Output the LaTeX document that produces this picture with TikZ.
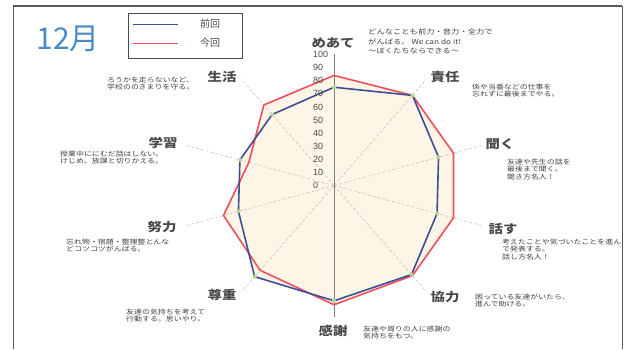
\documentclass[tikz,border=0pt]{standalone}
\usepackage{fontspec}
\setmainfont{Liberation Sans}
\newfontfamily\cjk{Noto Sans CJK JP}
\usepackage{xcolor}
\definecolor{prev-blue}{HTML}{3F4C96}
\definecolor{now-red}{HTML}{EE4F5E}
\definecolor{mark-green}{HTML}{B4D88C}
\definecolor{pale-beige}{HTML}{FDF5E6}
\definecolor{title-blue}{HTML}{4A8BC6}
\definecolor{ink-grey}{HTML}{4A4A4A}
\usepackage{tikz}
\tikzset{axislabel/.style = {font=\cjk\bfseries\fontsize{12}{12}\selectfont, text=ink-grey, inner sep=0pt, xscale=1.2, transform shape}}
\tikzset{desc/.style = {font=\cjk\fontsize{6.5}{7.2}\selectfont, text=black!75, align=left, anchor=north west, inner sep=0pt, xscale=1.22, transform shape}}
\tikzset{scalelabel/.style = {font=\fontsize{9}{9}\selectfont, text=ink-grey, anchor=west, inner sep=0pt}}
\tikzset{legendtext/.style = {font=\cjk\fontsize{10}{10}\selectfont, text=ink-grey, inner sep=0pt}}
\tikzset{spoke/.style = {gray!60, densely dashed, line width=.4pt}}
\tikzset{prev/.style = {prev-blue, line width=1.6pt, line join=round}}
\tikzset{now/.style = {now-red, line width=1.6pt, line join=round}}
\tikzset{gdot/.style = {circle, fill=mark-green, inner sep=0pt, minimum size=4pt}}

\begin{document}
\begin{tikzpicture}[x=1pt, y=1pt]
\useasboundingbox (0,0) rectangle (625,-349);

% frame
\draw[gray!70!black, line width=1.6pt] (13,-6) -- (622,-6);
\draw[gray!70!black, line width=.8pt] (13,-6) -- (13,-349);
\draw[gray!70!black, line width=1pt] (622,-6) -- (622,-349);

% title and legend
\node[font=\cjk\fontsize{30}{30}\selectfont, text=title-blue, inner sep=0pt] (month) at (68,-39) {12月};
\node[draw=ink-grey, line width=.6pt, minimum width=114pt, minimum height=45pt] (legend) at (185,-35.5) {};
\node[legendtext] (lprev) at (210,-24) {前回};
\node[legendtext] (lnow) at (210,-43) {今回};
\coordinate (lp0) at (133,-24);
\coordinate (lp1) at (178,-24);
\coordinate (ln0) at (133,-43);
\coordinate (ln1) at (178,-43);
\draw[prev, line width=1pt] (lp0) -- (lp1);
\draw[now, line width=1pt] (ln0) -- (ln1);

% radar
\begin{scope}[shift={(334,-185.5)}, xscale=1.57, yscale=1.31]
\coordinate (o) at (0,0);
\foreach \a/\b/\r [count=\i] in {90/75/84, 54/85/85, 18/70/80, -18/69/80, -54/84/85,
    -90/88/91, -126/86/80, -162/64/74, 162/63/57, 126/67/76} {
  \coordinate (b\i) at (\a:\b);
  \coordinate (r\i) at (\a:\r);
  \coordinate (ax\i) at (\a:100);
}
\fill[pale-beige] (r1) -- (r2) -- (r3) -- (r4) -- (r5) -- (r6) -- (r7) -- (r8) -- (r9) -- (r10) -- cycle;
\fill[pale-beige] (b1) -- (b2) -- (b3) -- (b4) -- (b5) -- (b6) -- (b7) -- (b8) -- (b9) -- (b10) -- cycle;
\foreach \i in {2,3,4,5,7,8,9,10} \draw[spoke] (o) -- (ax\i);
\draw[gray, line width=.5pt] (ax1) -- (ax6);
\draw[now] (r1) -- (r2) -- (r3) -- (r4) -- (r5) -- (r6) -- (r7) -- (r8) -- (r9) -- (r10) -- cycle;
\draw[prev] (b1) -- (b2) -- (b3) -- (b4) -- (b5) -- (b6) -- (b7) -- (b8) -- (b9) -- (b10) -- cycle;
\end{scope}
\foreach \i in {1,...,10} \node[gdot] at (b\i) {};

% scale
\foreach \v in {0,10,...,100} \node[scalelabel] (s\v) at (313,{-185.5+1.31*\v}) {\v};

% axis labels
\node[axislabel] (meate) at (333,-43) {めあて};
\node[axislabel] (sekinin) at (445,-77) {責任};
\node[axislabel] (kiku) at (500,-144) {聞く};
\node[axislabel] (hanasu) at (503,-229) {話す};
\node[axislabel] (kyouryoku) at (445,-297) {協力};
\node[axislabel] (kansha) at (333,-331) {感謝};
\node[axislabel] (sonchou) at (222,-295) {尊重};
\node[axislabel] (doryoku) at (162,-227) {努力};
\node[axislabel] (gakushuu) at (163,-143) {学習};
\node[axislabel] (seikatsu) at (222,-77) {生活};

% descriptions
\node[desc, font=\cjk\fontsize{6.8}{9.5}\selectfont] (meate-d) at (368,-29) {どんなことも前力・音力・全力で\\がんばる。 We can do it!\\～ぼくたちならできる～};
\node[desc] (sekinin-d) at (472,-84) {係や当番などの仕事を\\忘れずに最後までやる。};
\node[desc] (kiku-d) at (507,-159) {友達や先生の話を\\最後まで聞く。\\聞き方名人！};
\node[desc] (hanasu-d) at (502,-239) {考えたことや気づいたことを進ん\\で発表する。\\話し方名人！};
\node[desc] (kyouryoku-d) at (475,-294) {困っている友達がいたら、\\進んで助ける。};
\node[desc] (kansha-d) at (363,-326) {友達や周りの人に感謝の\\気持ちをもつ。};
\node[desc] (sonchou-d) at (126,-309) {友達の気持ちを考えて\\行動する。思いやり。};
\node[desc] (doryoku-d) at (66,-239) {忘れ物・宿題・整理整とんな\\どコツコツがんばる。};
\node[desc] (gakushuu-d) at (60,-151) {授業中ににむだ話はしない。\\けじめ。放課と切りかえる。};
\node[desc] (seikatsu-d) at (107,-77) {ろうかを走らないなど、\\学校ののきまりを守る。};

\end{tikzpicture}
\end{document}
